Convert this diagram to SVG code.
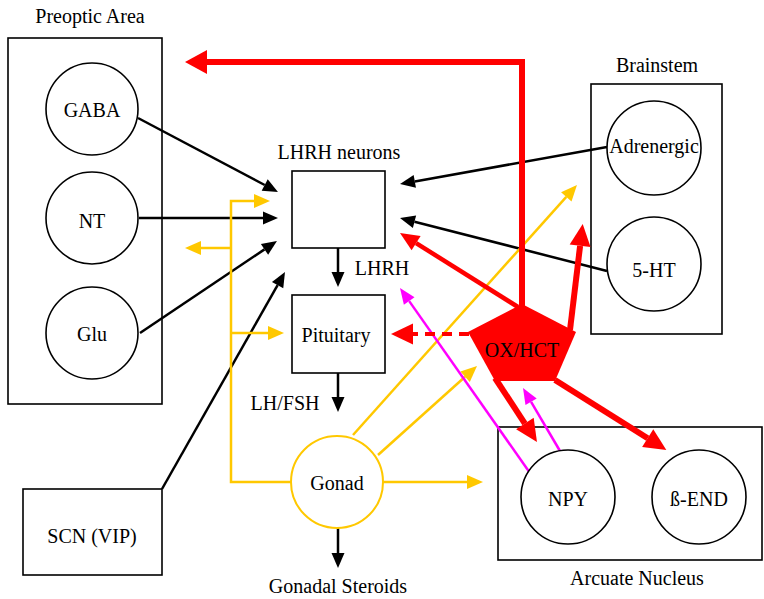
<svg xmlns="http://www.w3.org/2000/svg" width="764" height="599" viewBox="0 0 764 599">
  <style>
    text { font-family: "Liberation Serif", "Times New Roman", serif; font-size: 20px; fill: #000; text-anchor: middle; }
    .region { fill: none; stroke: #000; stroke-width: 1.6; }
    .box { fill: #fff; stroke: #000; stroke-width: 1.6; }
    .cell { fill: #fff; stroke: #000; stroke-width: 1.6; }
    .blk { fill: none; stroke: #000; stroke-width: 2.5; }
    .yel { fill: none; stroke: #FFC800; stroke-width: 2.5; }
    .mag { fill: none; stroke: #FF00FF; stroke-width: 2.5; }
    .red { fill: none; stroke: #FF0000; stroke-width: 6; }
    .red-thin { fill: none; stroke: #FF0000; stroke-width: 4.5; }
    .dash { stroke-dasharray: 10 7; stroke-width: 4; }
  </style>
  <defs>
    <marker id="ah-black" markerUnits="userSpaceOnUse" markerWidth="15" markerHeight="13" refX="0" refY="6.5" orient="auto" overflow="visible">
      <path d="M0,0 L15,6.5 L0,13 z" fill="#000"/>
    </marker>
    <marker id="ah-yellow" markerUnits="userSpaceOnUse" markerWidth="16" markerHeight="14" refX="0" refY="7" orient="auto" overflow="visible">
      <path d="M0,0 L16,7 L0,14 z" fill="#FFC800"/>
    </marker>
    <marker id="ah-magenta" markerUnits="userSpaceOnUse" markerWidth="16" markerHeight="13" refX="0" refY="6.5" orient="auto" overflow="visible">
      <path d="M0,0 L16,6.5 L0,13 z" fill="#FF00FF"/>
    </marker>
    <marker id="ah-red-s" markerUnits="userSpaceOnUse" markerWidth="19" markerHeight="17" refX="0" refY="8.5" orient="auto" overflow="visible">
      <path d="M0,0 L19,8.5 L0,17 z" fill="#FF0000"/>
    </marker>
    <marker id="ah-red" markerUnits="userSpaceOnUse" markerWidth="22" markerHeight="21" refX="0" refY="10.5" orient="auto" overflow="visible">
      <path d="M0,0 L22,10.5 L0,21 z" fill="#FF0000"/>
    </marker>
    <marker id="ah-red-l" markerUnits="userSpaceOnUse" markerWidth="22" markerHeight="24" refX="0" refY="12" orient="auto" overflow="visible">
      <path d="M0,0 L22,12 L0,24 z" fill="#FF0000"/>
    </marker>
  </defs>

  <rect width="764" height="599" fill="#fff"/>

  <!-- Regions -->
  <g id="preoptic-area">
    <rect class="region" x="8" y="38" width="154" height="366"/>
    <text x="90" y="23">Preoptic Area</text>
  </g>
  <g id="brainstem">
    <rect class="region" x="591" y="84" width="131" height="250"/>
    <text x="657" y="72">Brainstem</text>
  </g>
  <g id="arcuate-nucleus">
    <rect class="region" x="498" y="427" width="264" height="133"/>
    <text x="637" y="585">Arcuate Nucleus</text>
  </g>

  <!-- Connectors -->
  <g id="connectors">
    <!-- inputs to LHRH neurons -->
    <line class="blk" x1="138" y1="118" x2="264.7" y2="185" marker-end="url(#ah-black)"/>
    <line class="blk" x1="139" y1="218" x2="263" y2="218" marker-end="url(#ah-black)"/>
    <line class="blk" x1="140" y1="333" x2="264.5" y2="249.4" marker-end="url(#ah-black)"/>
    <line class="blk" x1="162" y1="489" x2="277.6" y2="285.1" marker-end="url(#ah-black)"/>
    <line class="blk" x1="607" y1="147" x2="414.8" y2="181.4" marker-end="url(#ah-black)"/>
    <line class="blk" x1="607" y1="271" x2="414.5" y2="221.7" marker-end="url(#ah-black)"/>
    <!-- axis outputs -->
    <line class="blk" x1="338" y1="248" x2="338" y2="272" marker-end="url(#ah-black)"/>
    <line class="blk" x1="338" y1="373" x2="338" y2="397" marker-end="url(#ah-black)"/>
    <line class="blk" x1="338" y1="528" x2="338" y2="553" marker-end="url(#ah-black)"/>

    <!-- gonadal feedback -->
    <path class="yel" d="M291,482 H231 V201 H254" marker-end="url(#ah-yellow)"/>
    <line class="yel" x1="231" y1="248" x2="201" y2="248" marker-end="url(#ah-yellow)"/>
    <line class="yel" x1="231" y1="333" x2="268" y2="333" marker-end="url(#ah-yellow)"/>
    <line class="yel" x1="383" y1="482" x2="467" y2="482" marker-end="url(#ah-yellow)"/>
    <line class="yel" x1="353" y1="435" x2="566.3" y2="196.9" marker-end="url(#ah-yellow)"/>
    <line class="yel" x1="378" y1="455" x2="465.1" y2="376.7" marker-end="url(#ah-yellow)"/>

    <!-- NPY projections -->
    <line class="mag" x1="530" y1="473" x2="409.2" y2="301.1" marker-end="url(#ah-magenta)"/>
    <line class="mag" x1="560" y1="451" x2="531.1" y2="401.8" marker-end="url(#ah-magenta)"/>

    <!-- OX/HCT projections -->
    <path class="red" d="M522,310 V62 H207" marker-end="url(#ah-red-l)"/>
    <line class="red-thin" x1="518" y1="307" x2="416.1" y2="243.1" marker-end="url(#ah-red-s)"/>
    <line class="red" x1="570" y1="330" x2="580.1" y2="245.8" marker-end="url(#ah-red)"/>
    <line class="red-thin dash" x1="469" y1="334" x2="413" y2="334" marker-end="url(#ah-red)"/>
    <line class="red" x1="495" y1="378" x2="524.9" y2="423.6" marker-end="url(#ah-red)"/>
    <line class="red" x1="555" y1="380" x2="647.7" y2="438.2" marker-end="url(#ah-red)"/>
  </g>

  <!-- Nodes -->
  <g id="gaba">
    <circle class="cell" cx="92" cy="109" r="46"/>
    <text x="92" y="117">GABA</text>
  </g>
  <g id="nt">
    <circle class="cell" cx="92" cy="218" r="46"/>
    <text x="92" y="228">NT</text>
  </g>
  <g id="glu">
    <circle class="cell" cx="92" cy="333" r="46"/>
    <text x="92" y="341">Glu</text>
  </g>
  <g id="scn">
    <rect class="box" x="23" y="489" width="139" height="86"/>
    <text x="92" y="543">SCN (VIP)</text>
  </g>
  <g id="lhrh-neurons">
    <rect class="box" x="292" y="171" width="93" height="77"/>
    <text x="339" y="159">LHRH neurons</text>
  </g>
  <g id="lhrh-label">
    <text x="382" y="275">LHRH</text>
  </g>
  <g id="pituitary">
    <rect class="box" x="292" y="295" width="93" height="78"/>
    <text x="336" y="342">Pituitary</text>
  </g>
  <g id="lh-fsh-label">
    <text x="285" y="410">LH/FSH</text>
  </g>
  <g id="gonad">
    <circle cx="337" cy="482" r="46" fill="#fff" stroke="#FFC800" stroke-width="2"/>
    <text x="337" y="490">Gonad</text>
  </g>
  <g id="gonadal-steroids">
    <text x="338" y="593">Gonadal Steroids</text>
  </g>
  <g id="adrenergic">
    <circle class="cell" cx="654" cy="148" r="47"/>
    <text x="654" y="153">Adrenergic</text>
  </g>
  <g id="serotonin">
    <circle class="cell" cx="654" cy="264" r="47"/>
    <text x="654" y="277">5-HT</text>
  </g>
  <g id="ox-hct">
    <polygon points="522,304 576,332 555,381 495,381 468,332" fill="#FF0000"/>
    <text x="522" y="357">OX/HCT</text>
  </g>
  <g id="npy">
    <circle class="cell" cx="568" cy="497" r="47"/>
    <text x="568" y="506">NPY</text>
  </g>
  <g id="beta-endorphin">
    <circle class="cell" cx="699" cy="497" r="47"/>
    <text x="699" y="506">ß-END</text>
  </g>
</svg>
